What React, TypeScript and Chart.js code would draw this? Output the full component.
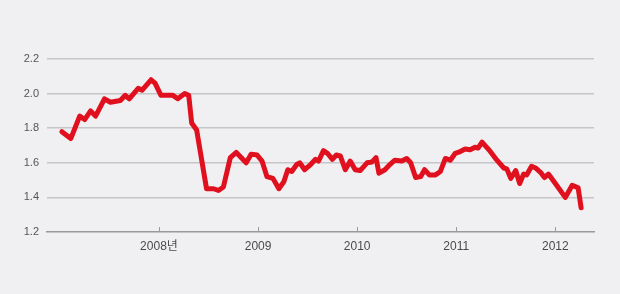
import React, { useEffect, useRef } from "react";
import { Chart, registerables } from "chart.js";

Chart.register(...registerables);

// Time position of each observation, in decimal years
const years = [
  2007.02, 2007.11, 2007.2, 2007.25, 2007.31, 2007.36, 2007.45, 2007.51, 2007.61, 2007.66,
  2007.7, 2007.79, 2007.83, 2007.92, 2007.96, 2008.02, 2008.14, 2008.19, 2008.26, 2008.3,
  2008.33, 2008.38, 2008.48, 2008.55, 2008.6, 2008.65, 2008.72, 2008.78, 2008.88, 2008.93,
  2008.99, 2009.04, 2009.09, 2009.15, 2009.21, 2009.26, 2009.3, 2009.34, 2009.39, 2009.42,
  2009.47, 2009.53, 2009.58, 2009.61, 2009.66, 2009.7, 2009.75, 2009.79, 2009.83, 2009.88,
  2009.93, 2009.98, 2010.03, 2010.1, 2010.15, 2010.19, 2010.22, 2010.28, 2010.33, 2010.38,
  2010.45, 2010.5, 2010.54, 2010.59, 2010.64, 2010.68, 2010.73, 2010.79, 2010.84, 2010.89,
  2010.94, 2010.99, 2011.04, 2011.09, 2011.14, 2011.19, 2011.22, 2011.26, 2011.33, 2011.41,
  2011.48, 2011.51, 2011.55, 2011.6, 2011.64, 2011.68, 2011.71, 2011.76, 2011.8, 2011.85,
  2011.89, 2011.93, 2012.0, 2012.1, 2012.17, 2012.23, 2012.26,
];

const values = [
  1.78, 1.74, 1.87, 1.85, 1.9, 1.87, 1.97, 1.95, 1.96, 1.99,
  1.97, 2.03, 2.02, 2.08, 2.06, 1.99, 1.99, 1.97, 2.0, 1.99,
  1.83, 1.79, 1.45, 1.45, 1.44, 1.46, 1.63, 1.66, 1.6, 1.65,
  1.645, 1.61, 1.52, 1.51, 1.45, 1.49, 1.56, 1.55, 1.59, 1.6,
  1.56, 1.59, 1.62, 1.61, 1.67, 1.655, 1.62, 1.645, 1.64, 1.56,
  1.61, 1.56, 1.555, 1.6, 1.605, 1.63, 1.54, 1.56, 1.59, 1.615,
  1.61, 1.625, 1.6, 1.515, 1.52, 1.56, 1.53, 1.53, 1.55, 1.625,
  1.615, 1.655, 1.665, 1.68, 1.675, 1.69, 1.685, 1.72, 1.675, 1.615,
  1.57, 1.565, 1.51, 1.555, 1.48, 1.535, 1.53, 1.58, 1.57, 1.545,
  1.515, 1.535, 1.48, 1.4, 1.47, 1.455, 1.34,
];

const xTickYears = [2008, 2009, 2010, 2011, 2012];
const xTickLabels = ["2008년", "2009", "2010", "2011", "2012"];
const yTicks = [1.2, 1.4, 1.6, 1.8, 2.0, 2.2];

const FONT = "'Liberation Sans', 'Noto Sans CJK KR', sans-serif";

// Short upward tick marks on the bottom axis at each year
const yearTicks = {
  id: "yearTicks",
  afterDatasetsDraw(chart: any) {
    const { ctx, scales, chartArea } = chart;
    const x = scales.x;
    ctx.save();
    ctx.strokeStyle = "#9a9a9a";
    ctx.lineWidth = 1;
    xTickYears.forEach((yr) => {
      const px = Math.round(x.getPixelForValue(yr)) + 0.5;
      ctx.beginPath();
      ctx.moveTo(px, chartArea.bottom);
      ctx.lineTo(px, chartArea.bottom - 5);
      ctx.stroke();
    });
    ctx.restore();
  },
};

export default function App() {
  const ref = useRef<HTMLCanvasElement | null>(null);

  useEffect(() => {
    if (!ref.current) return;
    const chart = new Chart(ref.current, {
      type: "line",
      data: {
        datasets: [
          {
            data: years.map((yr, i) => ({ x: yr, y: values[i] })),
            borderColor: "#e1101e",
            borderWidth: 5,
            borderJoinStyle: "round",
            borderCapStyle: "round",
            pointRadius: 0,
            tension: 0,
            fill: false,
          },
        ],
      },
      options: {
        animation: false,
        responsive: false,
        maintainAspectRatio: false,
        layout: { padding: { top: 59, right: 26, left: 0, bottom: 0 } },
        plugins: {
          legend: { display: false },
          tooltip: { enabled: false },
        },
        scales: {
          x: {
            type: "linear",
            min: 2006.87,
            max: 2012.39,
            afterBuildTicks: (scale: any) => {
              scale.ticks = xTickYears.map((v) => ({ value: v }));
            },
            afterFit: (scale: any) => {
              scale.height = 62;
            },
            grid: { display: false, drawTicks: false },
            border: { display: true, color: "#9a9a9a", width: 1.5 },
            ticks: {
              padding: 7,
              color: "#4a4a4a",
              font: { family: FONT, size: 12 },
              maxRotation: 0,
              autoSkip: false,
              callback: (v: any) => {
                const i = xTickYears.indexOf(Number(v));
                return i >= 0 ? xTickLabels[i] : "";
              },
            },
          },
          y: {
            type: "linear",
            min: 1.2,
            max: 2.2,
            afterBuildTicks: (scale: any) => {
              scale.ticks = yTicks.map((v) => ({ value: v }));
            },
            afterFit: (scale: any) => {
              scale.width = 47;
            },
            grid: {
              color: (c: any) => (c.tick && c.tick.value === 1.2 ? "rgba(0,0,0,0)" : "#c6c6c8"),
              lineWidth: 1.5,
              drawTicks: false,
            },
            border: { display: false },
            ticks: {
              padding: 8,
              color: "#555",
              font: { family: FONT, size: 11 },
              callback: (v: any) => Number(v).toFixed(1),
            },
          },
        },
      },
      plugins: [yearTicks],
    });
    return () => chart.destroy();
  }, []);

  return (
    <div
      style={{
        position: "fixed",
        left: 0,
        top: 0,
        width: 620,
        height: 294,
        background: "#f0eff1",
      }}
    >
      <canvas ref={ref} width={620} height={294} style={{ width: 620, height: 294 }} />
    </div>
  );
}
